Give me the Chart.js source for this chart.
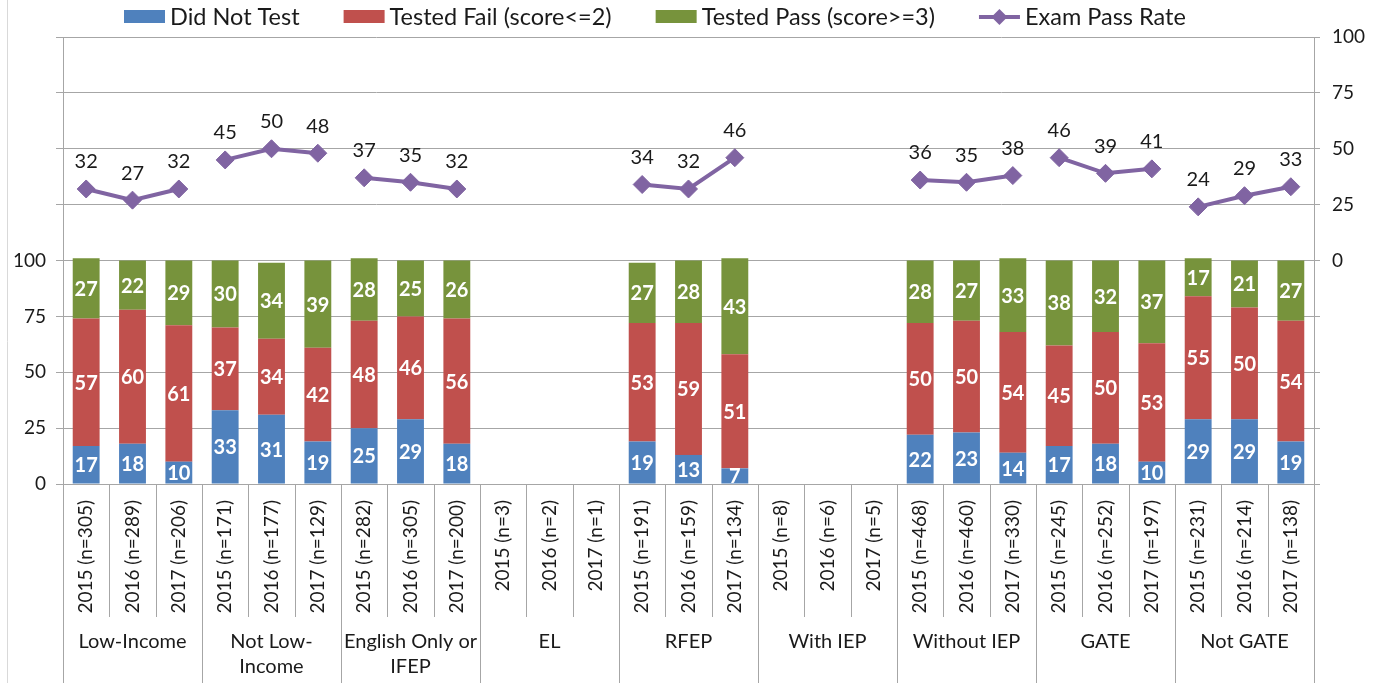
<!DOCTYPE html>
<html>
<head>
<meta charset="utf-8">
<script src="https://cdn.jsdelivr.net/npm/chart.js@4.4.1/dist/chart.umd.min.js"></script>
<style>
  html, body { margin: 0; padding: 0; background: #fff; }
  #wrap { width: 1373px; height: 683px; position: relative; }
</style>
</head>
<body>
<div id="wrap"><canvas id="chart"></canvas></div>
<script>
// groups along the x axis, three years each
const groups = ['Low-Income', 'Not Low-\nIncome', 'English Only or\nIFEP', 'EL', 'RFEP', 'With IEP', 'Without IEP', 'GATE', 'Not GATE'];
const categories = [
  '2015 (n=305)', '2016 (n=289)', '2017 (n=206)',
  '2015 (n=171)', '2016 (n=177)', '2017 (n=129)',
  '2015 (n=282)', '2016 (n=305)', '2017 (n=200)',
  '2015 (n=3)', '2016 (n=2)', '2017 (n=1)',
  '2015 (n=191)', '2016 (n=159)', '2017 (n=134)',
  '2015 (n=8)', '2016 (n=6)', '2017 (n=5)',
  '2015 (n=468)', '2016 (n=460)', '2017 (n=330)',
  '2015 (n=245)', '2016 (n=252)', '2017 (n=197)',
  '2015 (n=231)', '2016 (n=214)', '2017 (n=138)'
];
const didNotTest = [17, 18, 10, 33, 31, 19, 25, 29, 18, null, null, null, 19, 13, 7, null, null, null, 22, 23, 14, 17, 18, 10, 29, 29, 19];
const testedFail = [57, 60, 61, 37, 34, 42, 48, 46, 56, null, null, null, 53, 59, 51, null, null, null, 50, 50, 54, 45, 50, 53, 55, 50, 54];
const testedPass = [27, 22, 29, 30, 34, 39, 28, 25, 26, null, null, null, 27, 28, 43, null, null, null, 28, 27, 33, 38, 32, 37, 17, 21, 27];
const passRate = [32, 27, 32, 45, 50, 48, 37, 35, 32, null, null, null, 34, 32, 46, null, null, null, 36, 35, 38, 46, 39, 41, 24, 29, 33];
const leftTicks = [0, 25, 50, 75, 100];
const rightTicks = [0, 25, 50, 75, 100];

const BLUE = '#4F81BD', RED = '#C0504D', GREEN = '#77933C', PURPLE = '#8064A2';
const GRID = '#a6a6a6';
const TEXT = '#1a1a1a';
const FONT = 'Lato, "Open Sans", sans-serif';

// legend at the top (box items plus line-with-marker item)
const legendPlugin = {
  id: 'topLegend',
  afterDraw(chart) {
    const ctx = chart.ctx;
    const items = [
      { text: 'Did Not Test', color: BLUE, type: 'box' },
      { text: 'Tested Fail (score<=2)', color: RED, type: 'box' },
      { text: 'Tested Pass (score>=3)', color: GREEN, type: 'box' },
      { text: 'Exam Pass Rate', color: PURPLE, type: 'line' }
    ];
    ctx.save();
    ctx.font = '23.5px ' + FONT;
    ctx.textBaseline = 'middle';
    ctx.textAlign = 'left';
    const y = 17;
    let x = 124;
    items.forEach(it => {
      if (it.type === 'box') {
        ctx.fillStyle = it.color;
        ctx.fillRect(x, y - 7, 41, 13);
      } else {
        ctx.strokeStyle = it.color;
        ctx.lineWidth = 4;
        ctx.beginPath();
        ctx.moveTo(x, y);
        ctx.lineTo(x + 41, y);
        ctx.stroke();
        ctx.fillStyle = it.color;
        ctx.beginPath();
        ctx.moveTo(x + 20.5, y - 8);
        ctx.lineTo(x + 28.5, y);
        ctx.lineTo(x + 20.5, y + 8);
        ctx.lineTo(x + 12.5, y);
        ctx.closePath();
        ctx.fill();
      }
      ctx.fillStyle = TEXT;
      ctx.fillText(it.text, x + 46, y);
      x += 46 + ctx.measureText(it.text).width + 44;
    });
    ctx.restore();
  }
};

// value labels on bar segments and above line points
const valueLabels = {
  id: 'valueLabels',
  afterDatasetsDraw(chart) {
    const ctx = chart.ctx;
    ctx.save();
    ctx.textAlign = 'center';
    ctx.textBaseline = 'middle';
    chart.data.datasets.forEach((ds, di) => {
      const meta = chart.getDatasetMeta(di);
      meta.data.forEach((el, i) => {
        const v = ds.data[i];
        if (v === null || v === undefined) return;
        if (ds.type === 'line') {
          ctx.font = '20px ' + FONT;
          ctx.fillStyle = TEXT;
          ctx.fillText(String(v), el.x, el.y - 27);
        } else {
          ctx.font = 'bold 20px ' + FONT;
          ctx.fillStyle = '#ffffff';
          ctx.fillText(String(v), el.x, (el.y + el.base) / 2 + 1);
        }
      });
    });
    ctx.restore();
  }
};

// separators and group names under the year labels
const groupAxis = {
  id: 'groupAxis',
  afterDraw(chart) {
    const ctx = chart.ctx;
    const xs = chart.scales.x;
    const area = chart.chartArea;
    const half = (xs.getPixelForValue(1) - xs.getPixelForValue(0)) / 2;
    const bottom = chart.height;
    ctx.save();
    ctx.strokeStyle = GRID;
    ctx.lineWidth = 1;
    for (let i = 0; i <= categories.length; i++) {
      const px = Math.round(xs.getPixelForValue(i) - half) + 0.5;
      const yEnd = (i % 3 === 0) ? bottom : area.bottom + 133;
      ctx.beginPath();
      ctx.moveTo(px, area.bottom);
      ctx.lineTo(px, yEnd);
      ctx.stroke();
    }
    // outer frame line on the left edge
    ctx.strokeStyle = '#d9d9d9';
    ctx.beginPath();
    ctx.moveTo(7.5, 0);
    ctx.lineTo(7.5, bottom);
    ctx.stroke();

    ctx.font = '20px ' + FONT;
    ctx.fillStyle = TEXT;
    ctx.textAlign = 'center';
    ctx.textBaseline = 'middle';
    groups.forEach((g, gi) => {
      const cx = (xs.getPixelForValue(gi * 3) + xs.getPixelForValue(gi * 3 + 2)) / 2;
      g.split('\n').forEach((line, li) => {
        ctx.fillText(line, cx, area.bottom + 158 + li * 25);
      });
    });
    ctx.restore();
  }
};

const barCommon = { type: 'bar', yAxisID: 'y', stack: 's', barPercentage: 0.58, categoryPercentage: 1, order: 2 };

new Chart(document.getElementById('chart'), {
  data: {
    labels: categories,
    datasets: [
      Object.assign({ label: 'Did Not Test', data: didNotTest, backgroundColor: BLUE }, barCommon),
      Object.assign({ label: 'Tested Fail (score<=2)', data: testedFail, backgroundColor: RED }, barCommon),
      Object.assign({ label: 'Tested Pass (score>=3)', data: testedPass, backgroundColor: GREEN }, barCommon),
      {
        type: 'line',
        label: 'Exam Pass Rate',
        data: passRate,
        yAxisID: 'y2',
        order: 1,
        borderColor: PURPLE,
        backgroundColor: PURPLE,
        borderWidth: 4,
        pointStyle: 'rectRot',
        pointRadius: 9,
        pointBorderWidth: 1,
        pointBackgroundColor: PURPLE,
        pointBorderColor: PURPLE,
        tension: 0,
        spanGaps: false,
        segment: {
          borderColor: c => (c.p0DataIndex % 3 === 2 ? 'rgba(0,0,0,0)' : PURPLE)
        }
      }
    ]
  },
  options: {
    responsive: true,
    maintainAspectRatio: false,
    animation: false,
    layout: { padding: { top: 37, left: 0, right: 0, bottom: 0 } },
    plugins: {
      legend: { display: false },
      tooltip: { enabled: false }
    },
    scales: {
      x: {
        stacked: true,
        grid: { display: false, drawTicks: false },
        border: { display: true, color: GRID },
        ticks: {
          autoSkip: false,
          maxRotation: 90,
          minRotation: 90,
          padding: 16,
          color: TEXT,
          font: { family: FONT, size: 19 }
        },
        afterFit: s => { s.height = 199; }
      },
      y: {
        stacked: true,
        position: 'left',
        min: 0,
        max: 200,
        grid: { color: GRID, tickLength: 7, lineWidth: 1 },
        border: { display: true, color: GRID },
        ticks: {
          stepSize: 25,
          padding: 10,
          color: TEXT,
          font: { family: FONT, size: 19 },
          callback: v => (leftTicks.includes(v) ? v : '')
        },
        afterFit: s => { s.width = 63; }
      },
      y2: {
        position: 'right',
        min: -100,
        max: 100,
        grid: { drawOnChartArea: false, color: GRID, tickLength: 6 },
        border: { display: true, color: GRID },
        ticks: {
          stepSize: 25,
          padding: 12,
          color: TEXT,
          font: { family: FONT, size: 19 },
          callback: v => (rightTicks.includes(v) ? v : '')
        },
        afterFit: s => { s.width = 59; }
      }
    }
  },
  plugins: [legendPlugin, valueLabels, groupAxis]
});
</script>
</body>
</html>
